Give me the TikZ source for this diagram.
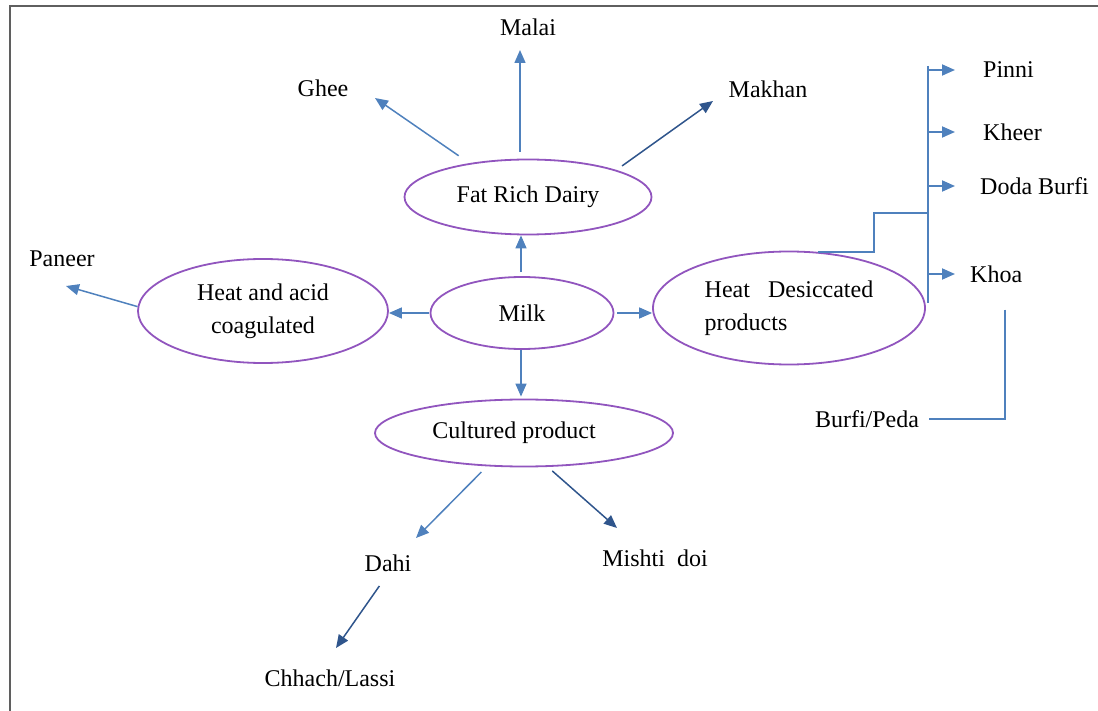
\documentclass[tikz,border=0pt]{standalone}
\usepackage{fontspec}
\setmainfont{Liberation Serif}
\usetikzlibrary{shapes.geometric,arrows.meta}

\definecolor{ovalpurple}{RGB}{145,85,190}
\definecolor{lightarrow}{RGB}{79,129,189}
\definecolor{darkarrow}{RGB}{47,85,140}
\definecolor{framegray}{RGB}{95,95,95}

\begin{document}
\begin{tikzpicture}[x=1pt,y=-1pt,
    every node/.style={font=\fontsize{24}{33}\selectfont, inner sep=2pt},
    oval/.style={ellipse, draw=ovalpurple, line width=1.8pt, inner sep=0pt},
    larr/.style={draw=lightarrow, line width=1.5pt, -{Triangle[length=13pt,width=11pt]}},
    darr/.style={larr, draw=darkarrow},
    trunk/.style={draw=lightarrow, line width=1.8pt}]
		\useasboundingbox (0,0) rectangle (1098,711);

		% frame
		\draw[framegray, line width=2pt] (9.5,711) -- (9.5,6.5) -- (1098,6.5);

		% ovals
		\node[oval, minimum width=247pt, minimum height=75pt] (frd) at (528,197) {Fat Rich Dairy};
		\node[oval, minimum width=183pt, minimum height=72pt] (milk) at (522,313) {Milk};
		\node[oval, minimum width=250pt, minimum height=104pt, align=center] (hac) at (263,311) {Heat and acid\\coagulated};
		\node[oval, minimum width=272pt, minimum height=113pt, align=left] (hdp) at (789,308) {Heat\hspace{18pt}Desiccated\\products};
		\node[oval, minimum width=298pt, minimum height=67pt] (cult) at (524,433) {Cultured product\hspace*{20pt}};

		% products
		\node (malai) at (528,27) {Malai};
		\node (ghee) at (323,88) {Ghee};
		\node (makhan) at (768,89) {Makhan};
		\node (paneer) at (62,259) {Paneer};
		\node (dahi) at (388,563) {Dahi};
		\node (mishti) at (655,558) {Mishti\hspace{12pt}doi};
		\node (chhach) at (330,678) {Chhach/Lassi};
		\node (burfi) at (867,419) {Burfi/Peda};
		\node[anchor=west] (pinni) at (981,70) {Pinni};
		\node[anchor=west] (kheer) at (981,132) {Kheer};
		\node[anchor=west] (doda) at (978,186) {Doda Burfi};
		\node[anchor=west] (khoa) at (968,274) {Khoa};

		% arrow ends
		\coordinate (malai-tip) at (520,50);
		\coordinate (ghee-tip) at (375,98);
		\coordinate (makhan-tip) at (713,101);
		\coordinate (paneer-tip) at (66,286);
		\coordinate (dahi-tip) at (416,538);
		\coordinate (mishti-tip) at (617,528);
		\coordinate (chhach-tip) at (336,648);
		\coordinate (trunk-top) at (928,66);
		\coordinate (trunk-bot) at (928,303);
		\coordinate (fork) at (928,213);

		% from milk
		\draw[larr, shorten <=4pt] ([xshift=-1pt]milk.north) -- ([xshift=-1pt]milk.north |- frd.south);
		\draw[larr, shorten >=2pt] ([xshift=-1pt]milk.south) -- ([xshift=-1pt]milk.south |- cult.north);
		\draw[larr, shorten <=1pt] (milk.west) -- (milk.west -| hac.east);
		\draw[larr, shorten <=3pt] (milk.east) -- (milk.east -| hdp.west);

		% fat rich dairy
		\draw[larr, shorten <=7pt] ([xshift=-8pt]frd.north) -- (malai-tip);
		\draw[larr, shorten <=13pt] (frd.150) -- (ghee-tip);
		\draw[darr, shorten <=7pt] (frd.17) -- (makhan-tip);

		% heat and acid
		\draw[larr] (hac.178) -- (paneer-tip);

		% cultured
		\draw[larr, shorten <=8pt] (cult.222) -- (dahi-tip);
		\draw[darr, shorten <=6pt] (cult.305) -- (mishti-tip);
		\draw[darr, shorten <=15pt] (dahi.south) -- (chhach-tip);

		% heat desiccated
		\draw[trunk] (trunk-top) -- (trunk-bot);
		\draw[trunk] (hdp.63) -- ++(56,0) |- (fork);
		\foreach \leaf in {pinni,kheer,doda,khoa}
		\draw[larr, line width=1.8pt] (trunk-top |- \leaf.west) -- ++(27,0);
		\draw[trunk, shorten <=25pt, shorten >=8pt] ([xshift=9pt]khoa.south) |- (burfi.east);
	\end{tikzpicture}
\end{document}
